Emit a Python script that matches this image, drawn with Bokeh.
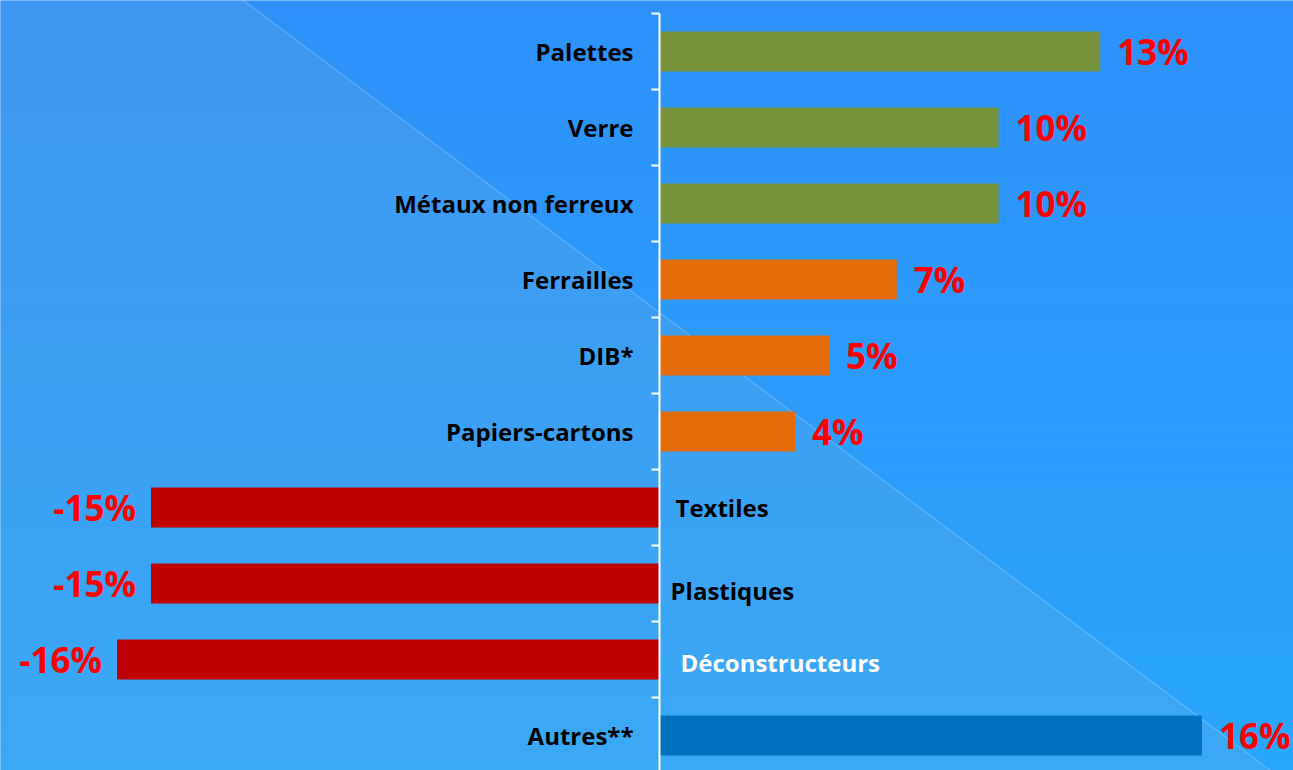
import numpy as np
from bokeh.plotting import figure
from bokeh.models import Range1d, ColumnDataSource
from bokeh.core.properties import value
from bokeh.embed import file_html
from bokeh.resources import INLINE

# ---- data ----
categories = ["Palettes", "Verre", "Métaux non ferreux", "Ferrailles", "DIB*",
              "Papiers-cartons", "Textiles", "Plastiques", "Déconstructeurs", "Autres**"]
values = [13, 10, 10, 7, 5, 4, -15, -15, -16, 16]
value_labels = [f"{v}%" for v in values]
bar_colors = ["#77933c"] * 3 + ["#e46c0a"] * 3 + ["#c00000"] * 3 + ["#0070c0"]
label_colors = ["black"] * 8 + ["white"] + ["black"]

# ---- layout constants (style) ----
W, H = 1293, 770
PX = 33.9      # pixels per percent
X0 = 659       # pixel position of zero
Y0 = 51        # pixel centre of first category
STEP = 76      # pixels per category
x_start, x_end = -X0 / PX, (W - X0) / PX
y_top, y_bot = -Y0 / STEP, (H - Y0) / STEP

p = figure(width=W, height=H, x_range=Range1d(x_start, x_end),
           y_range=Range1d(y_bot, y_top), output_backend="svg",
           toolbar_location=None, min_border=0,
           x_axis_location=None, y_axis_location=None)
p.grid.visible = False
p.outline_line_color = None
p.border_fill_color = "#2e91fa"
p.background_fill_color = "#2e91fa"

# ---- background vertical gradient ----
nb = 60
edges = np.linspace(y_top, y_bot, nb + 1)
c_top = np.array([46, 145, 250])
c_bot = np.array([41, 167, 254])
cols = []
for i in range(nb):
    t = i / (nb - 1)
    c = (c_top * (1 - t) + c_bot * t).astype(int)
    cols.append("#%02x%02x%02x" % tuple(c))
p.quad(left=x_start, right=x_end, top=edges[:-1], bottom=edges[1:],
       fill_color=cols, line_color=None)

# lighter lower-left region bounded by a diagonal
def px2x(px):
    return (px - X0) / PX

def py2y(py):
    return (py - Y0) / STEP

dx0, dy0 = px2x(243), py2y(0)
dx1, dy1 = px2x(1270), py2y(770)
p.patch(x=[x_start, dx0, dx1, x_start], y=[dy0, dy0, dy1, dy1],
        fill_color="#83b4d7", fill_alpha=0.2, line_color=None)
p.line(x=[dx0, dx1], y=[dy0, dy1], line_color="white", line_alpha=0.3, line_width=1)

# ---- bars ----
idx = list(range(len(categories)))
src = ColumnDataSource(dict(y=idx, v=values, c=bar_colors))
p.hbar(y="y", left=0, right="v", height=0.526, fill_color="c", line_color=None, source=src)

# ---- axis line and ticks ----
p.segment(x0=0, y0=-0.5, x1=0, y1=len(categories) + 0.5, line_color="white", line_width=2)
bounds = [i - 0.5 for i in range(len(categories) + 1)]
p.ray(x=0, y=bounds, length=8, length_units="screen", angle=np.pi,
      line_color="white", line_width=2)

# ---- value labels ----
pos = [i for i, v in enumerate(values) if v >= 0]
neg = [i for i, v in enumerate(values) if v < 0]
font = value("Open Sans")
p.text(x=[values[i] for i in pos], y=pos, text=[value_labels[i] for i in pos],
       text_align="left", text_baseline="middle", x_offset=17,
       text_font=font, text_font_style="bold", text_font_size="35px", text_color="#ff0000")
p.text(x=[values[i] for i in neg], y=neg, text=[value_labels[i] for i in neg],
       text_align="right", text_baseline="middle", x_offset=-15,
       text_font=font, text_font_style="bold", text_font_size="35px", text_color="#ff0000")

# ---- category labels ----
p.text(x=[0] * len(pos), y=pos, text=[categories[i] for i in pos],
       text_align="right", text_baseline="middle", x_offset=-26,
       text_font=font, text_font_style="bold", text_font_size="24px",
       text_color=[label_colors[i] for i in pos])
neg_xoff = [16, 11, 21]
neg_yoff = [0, 7, 3]
p.text(x=[0] * len(neg), y=neg, text=[categories[i] for i in neg],
       text_align="left", text_baseline="middle", x_offset=neg_xoff, y_offset=neg_yoff,
       text_font=font, text_font_style="bold", text_font_size="24px",
       text_color=[label_colors[i] for i in neg])

open("out.html", "w").write(file_html(p, INLINE))
